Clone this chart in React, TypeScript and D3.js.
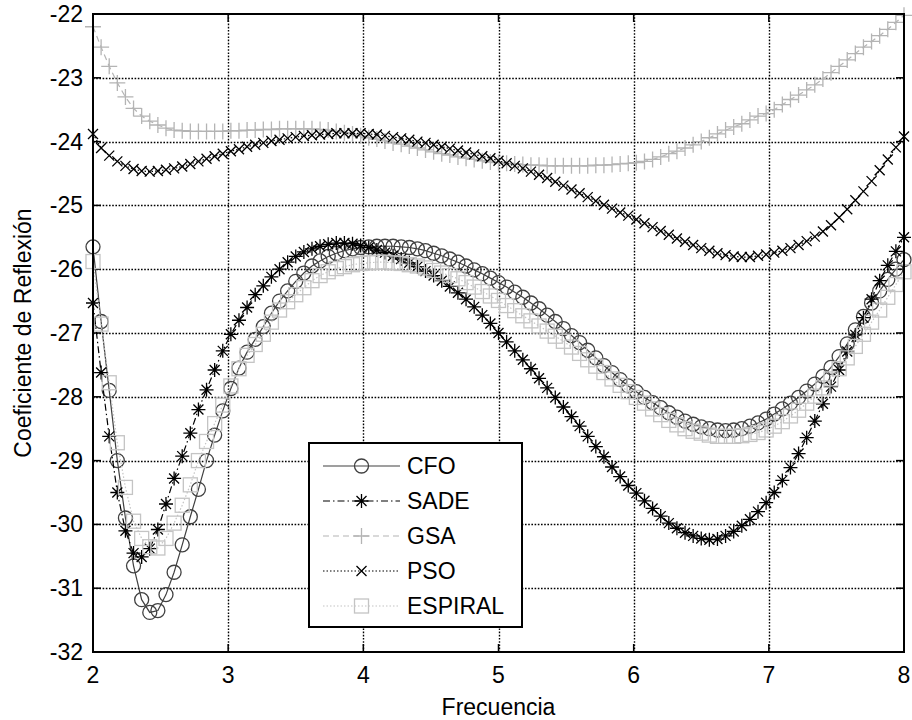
import React from "react";
import * as d3 from "d3";

const frequencies: number[] = d3.range(101).map((i) => +(2 + i * 0.06).toFixed(2));

const cfo: number[] = [
  -25.65, -26.82, -27.9, -29.0, -29.9, -30.65, -31.18, -31.38, -31.35, -31.1,
  -30.75, -30.32, -29.88, -29.45, -29.0, -28.6, -28.22, -27.87, -27.55, -27.3,
  -27.1, -26.9, -26.69, -26.5, -26.34, -26.19, -26.06, -25.95, -25.87, -25.8,
  -25.75, -25.71, -25.68, -25.66, -25.65, -25.64, -25.64, -25.64, -25.65, -25.66,
  -25.68, -25.71, -25.75, -25.79, -25.84, -25.89, -25.95, -26.01, -26.07, -26.14,
  -26.21, -26.28, -26.36, -26.44, -26.53, -26.62, -26.72, -26.82, -26.93, -27.04,
  -27.15, -27.27, -27.39, -27.51, -27.62, -27.73, -27.83, -27.92, -28.01, -28.09,
  -28.17, -28.25, -28.32, -28.38, -28.43, -28.47, -28.5, -28.52, -28.53, -28.52,
  -28.5, -28.46, -28.41, -28.35, -28.27, -28.19, -28.1, -28.01, -27.91, -27.8,
  -27.68, -27.54, -27.37, -27.17, -26.95, -26.74, -26.53, -26.34, -26.16, -26.0,
  -25.85,
];

const sade: number[] = [
  -26.53, -27.62, -28.62, -29.5, -30.1, -30.45, -30.51, -30.38, -30.08, -29.68,
  -29.28, -28.93, -28.57, -28.2, -27.89, -27.58, -27.28, -27.02, -26.8, -26.6,
  -26.4, -26.26, -26.12, -26.0, -25.89, -25.8, -25.73, -25.68, -25.64, -25.61,
  -25.59, -25.59, -25.6, -25.63, -25.66, -25.7, -25.74, -25.79, -25.84, -25.9,
  -25.96, -26.03, -26.1, -26.18, -26.27, -26.37, -26.47, -26.59, -26.72, -26.85,
  -27.0, -27.14, -27.28, -27.42, -27.56, -27.71, -27.86, -28.01, -28.16, -28.31,
  -28.46, -28.62, -28.78, -28.94, -29.1, -29.25, -29.39, -29.51, -29.63, -29.75,
  -29.87, -29.98, -30.06, -30.13, -30.18, -30.22, -30.24, -30.23, -30.18, -30.11,
  -30.02, -29.92, -29.8, -29.66, -29.5, -29.31, -29.11, -28.89, -28.64, -28.38,
  -28.11, -27.84, -27.58, -27.29, -27.03, -26.76, -26.47, -26.18, -25.94, -25.72,
  -25.5,
];

const gsa: number[] = [
  -22.2, -22.52, -22.82, -23.08, -23.3, -23.48, -23.6, -23.68, -23.74, -23.79,
  -23.82, -23.83, -23.84, -23.84, -23.84, -23.84, -23.84, -23.83, -23.83, -23.82,
  -23.82, -23.81, -23.81, -23.8, -23.8, -23.8, -23.8, -23.8, -23.81, -23.82,
  -23.84, -23.86, -23.88, -23.91, -23.94, -23.96, -23.99, -24.02, -24.04, -24.07,
  -24.1, -24.13, -24.16, -24.19, -24.21, -24.24, -24.26, -24.28, -24.3, -24.32,
  -24.33, -24.34, -24.35, -24.36, -24.37, -24.37, -24.38, -24.38, -24.38, -24.38,
  -24.38, -24.38, -24.37, -24.37, -24.36, -24.35, -24.34, -24.33, -24.31, -24.28,
  -24.24, -24.19, -24.15, -24.1, -24.05, -24.0, -23.94, -23.88, -23.82, -23.77,
  -23.72, -23.66, -23.6, -23.56, -23.5, -23.42, -23.34, -23.27, -23.19, -23.11,
  -23.02, -22.92, -22.82, -22.72, -22.62, -22.52, -22.43, -22.34, -22.24, -22.13,
  -22.02,
];

const pso: number[] = [
  -23.88, -24.1, -24.22, -24.31, -24.38, -24.43, -24.46, -24.47, -24.46, -24.44,
  -24.42, -24.39, -24.35, -24.31, -24.27, -24.23, -24.19, -24.15, -24.12, -24.08,
  -24.05, -24.02, -23.99, -23.97, -23.95, -23.93, -23.91, -23.9, -23.89, -23.88,
  -23.87, -23.87, -23.87, -23.87, -23.88, -23.89, -23.91, -23.93, -23.95, -23.97,
  -24.0, -24.02, -24.05, -24.08, -24.11, -24.14, -24.17, -24.2, -24.23, -24.26,
  -24.3, -24.34, -24.38, -24.42, -24.47, -24.52, -24.57, -24.63, -24.69, -24.75,
  -24.81, -24.87, -24.93, -24.99, -25.05, -25.11, -25.16, -25.22, -25.28, -25.34,
  -25.4, -25.46, -25.52, -25.57, -25.62, -25.67, -25.71, -25.75, -25.78, -25.8,
  -25.81, -25.81, -25.79, -25.77, -25.74, -25.71, -25.67, -25.62, -25.56, -25.49,
  -25.41, -25.31, -25.19, -25.06, -24.92, -24.78, -24.62, -24.45, -24.28, -24.09,
  -23.92,
];

const espiral: number[] = [
  -25.88, -26.86, -27.78, -28.72, -29.42, -29.95, -30.22, -30.35, -30.37, -30.22,
  -29.98, -29.7, -29.38, -29.0, -28.7, -28.42, -28.13, -27.83, -27.56, -27.35,
  -27.18, -27.02, -26.83, -26.64, -26.51, -26.4, -26.29, -26.18, -26.1, -26.04,
  -25.99, -25.96, -25.93, -25.91, -25.9, -25.89, -25.89, -25.9, -25.91, -25.93,
  -25.95, -25.98, -26.02, -26.06, -26.1, -26.15, -26.21, -26.28, -26.35, -26.42,
  -26.49, -26.57, -26.65, -26.73, -26.81, -26.89, -26.97, -27.05, -27.13, -27.22,
  -27.32, -27.42, -27.52, -27.62, -27.72, -27.82, -27.92, -28.01, -28.1, -28.19,
  -28.28, -28.37, -28.44, -28.5, -28.54, -28.57, -28.6, -28.62, -28.62, -28.62,
  -28.61, -28.59, -28.56, -28.52, -28.46, -28.39, -28.3, -28.21, -28.1, -27.99,
  -27.86, -27.72, -27.56, -27.39, -27.21, -27.02, -26.83, -26.64, -26.44, -26.24,
  -26.04,
];

const seriesNames: string[] = ["CFO", "SADE", "GSA", "PSO", "ESPIRAL"];
const xTicks: number[] = [2, 3, 4, 5, 6, 7, 8];
const yTicks: number[] = [-32, -31, -30, -29, -28, -27, -26, -25, -24, -23, -22];
const xLabel = "Frecuencia";
const yLabel = "Coeficiente de Reflexión";

type Marker = "circle" | "asterisk" | "plus" | "cross" | "square";
interface Style {
  color: string;
  dash: string | undefined;
  marker: Marker;
}
const styles: Style[] = [
  { color: "#404040", dash: undefined, marker: "circle" },
  { color: "#000000", dash: "7,3,1.5,3", marker: "asterisk" },
  { color: "#b4b4b4", dash: "6,4", marker: "plus" },
  { color: "#000000", dash: "1.5,2", marker: "cross" },
  { color: "#c4c4c4", dash: "1.5,2", marker: "square" },
];

const W = 912;
const H = 720;
const L = 93;
const R = 904;
const T = 14;
const B = 652;
const FONT = "'Liberation Sans', Arial, Helvetica, sans-serif";

function MarkerShape({ kind, x, y, color }: { kind: Marker; x: number; y: number; color: string }) {
  const sw = 1.3;
  if (kind === "circle")
    return <circle cx={x} cy={y} r={7} fill="none" stroke={color} strokeWidth={sw} />;
  if (kind === "square")
    return <rect x={x - 7} y={y - 7} width={14} height={14} fill="none" stroke={color} strokeWidth={sw} />;
  if (kind === "plus") {
    const s = 8;
    return (
      <path d={`M${x - s},${y}H${x + s}M${x},${y - s}V${y + s}`} stroke={color} strokeWidth={sw} fill="none" />
    );
  }
  if (kind === "cross") {
    const s = 5;
    return (
      <path
        d={`M${x - s},${y - s}L${x + s},${y + s}M${x - s},${y + s}L${x + s},${y - s}`}
        stroke={color}
        strokeWidth={sw}
        fill="none"
      />
    );
  }
  const s = 7;
  const d = 5;
  return (
    <path
      d={`M${x - s},${y}H${x + s}M${x},${y - s}V${y + s}M${x - d},${y - d}L${x + d},${y + d}M${x - d},${y + d}L${x + d},${y - d}`}
      stroke={color}
      strokeWidth={sw}
      fill="none"
    />
  );
}

export default function App() {
  const xScale = d3.scaleLinear().domain([2, 8]).range([L, R]);
  const yScale = d3.scaleLinear().domain([-32, -22]).range([B, T]);
  const allSeries = [cfo, sade, gsa, pso, espiral];
  const line = d3
    .line<number>()
    .x((_, i) => xScale(frequencies[i]))
    .y((d) => yScale(d));

  const legendX = 309;
  const legendY = 443;
  const legendW = 213;
  const legendH = 184;
  const legendRow = (i: number) => 466 + i * 35;

  return (
    <svg
      width={W}
      height={H}
      style={{ position: "absolute", left: 0, top: 0, background: "#fff" }}
      fontFamily={FONT}
    >
      <rect x={0} y={0} width={W} height={H} fill="#fff" />
      {/* grid */}
      <g stroke="#000" strokeWidth={1.4} strokeDasharray="1.6,1.6">
        {xTicks.slice(1, -1).map((t) => (
          <line key={"gx" + t} x1={Math.round(xScale(t)) + 0.5} x2={Math.round(xScale(t)) + 0.5} y1={T} y2={B} />
        ))}
        {yTicks.slice(1, -1).map((t) => (
          <line key={"gy" + t} x1={L} x2={R} y1={Math.round(yScale(t)) + 0.5} y2={Math.round(yScale(t)) + 0.5} />
        ))}
      </g>
      {/* ticks */}
      <g stroke="#000" strokeWidth={1.5}>
        {xTicks.map((t) => (
          <g key={"tx" + t}>
            <line x1={xScale(t)} x2={xScale(t)} y1={B} y2={B - 8} />
            <line x1={xScale(t)} x2={xScale(t)} y1={T} y2={T + 8} />
          </g>
        ))}
        {yTicks.map((t) => (
          <g key={"ty" + t}>
            <line x1={L} x2={L + 8} y1={yScale(t)} y2={yScale(t)} />
            <line x1={R} x2={R - 8} y1={yScale(t)} y2={yScale(t)} />
          </g>
        ))}
      </g>
      {/* series */}
      {allSeries.map((vals, si) => {
        const st = styles[si];
        return (
          <g key={seriesNames[si]}>
            <path d={line(vals) || ""} fill="none" stroke={st.color} strokeWidth={1.2} strokeDasharray={st.dash} />
            {vals.map((v, i) => (
              <MarkerShape key={i} kind={st.marker} x={xScale(frequencies[i])} y={yScale(v)} color={st.color} />
            ))}
          </g>
        );
      })}
      {/* frame */}
      <rect x={L} y={T} width={R - L} height={B - T} fill="none" stroke="#000" strokeWidth={2} />
      {/* tick labels */}
      <g fontSize={23} fill="#000">
        {xTicks.map((t) => (
          <text key={"lx" + t} x={xScale(t)} y={683} textAnchor="middle">
            {t}
          </text>
        ))}
        {yTicks.map((t) => (
          <text key={"ly" + t} x={83} y={yScale(t) + 8} textAnchor="end">
            {t}
          </text>
        ))}
      </g>
      <text x={(L + R) / 2} y={715} textAnchor="middle" fontSize={23}>
        {xLabel}
      </text>
      <text
        transform={`translate(31,${(T + B) / 2}) rotate(-90)`}
        textAnchor="middle"
        fontSize={23}
      >
        {yLabel}
      </text>
      {/* legend */}
      <rect x={legendX} y={legendY} width={legendW} height={legendH} fill="#fff" stroke="#000" strokeWidth={2} />
      {seriesNames.map((name, i) => {
        const st = styles[i];
        const y = legendRow(i);
        return (
          <g key={"lg" + name}>
            <line x1={323} x2={400} y1={y} y2={y} stroke={st.color} strokeWidth={1.2} strokeDasharray={st.dash} />
            <MarkerShape kind={st.marker} x={361.5} y={y} color={st.color} />
            <text x={407} y={y + 8} fontSize={23}>
              {name}
            </text>
          </g>
        );
      })}
    </svg>
  );
}
